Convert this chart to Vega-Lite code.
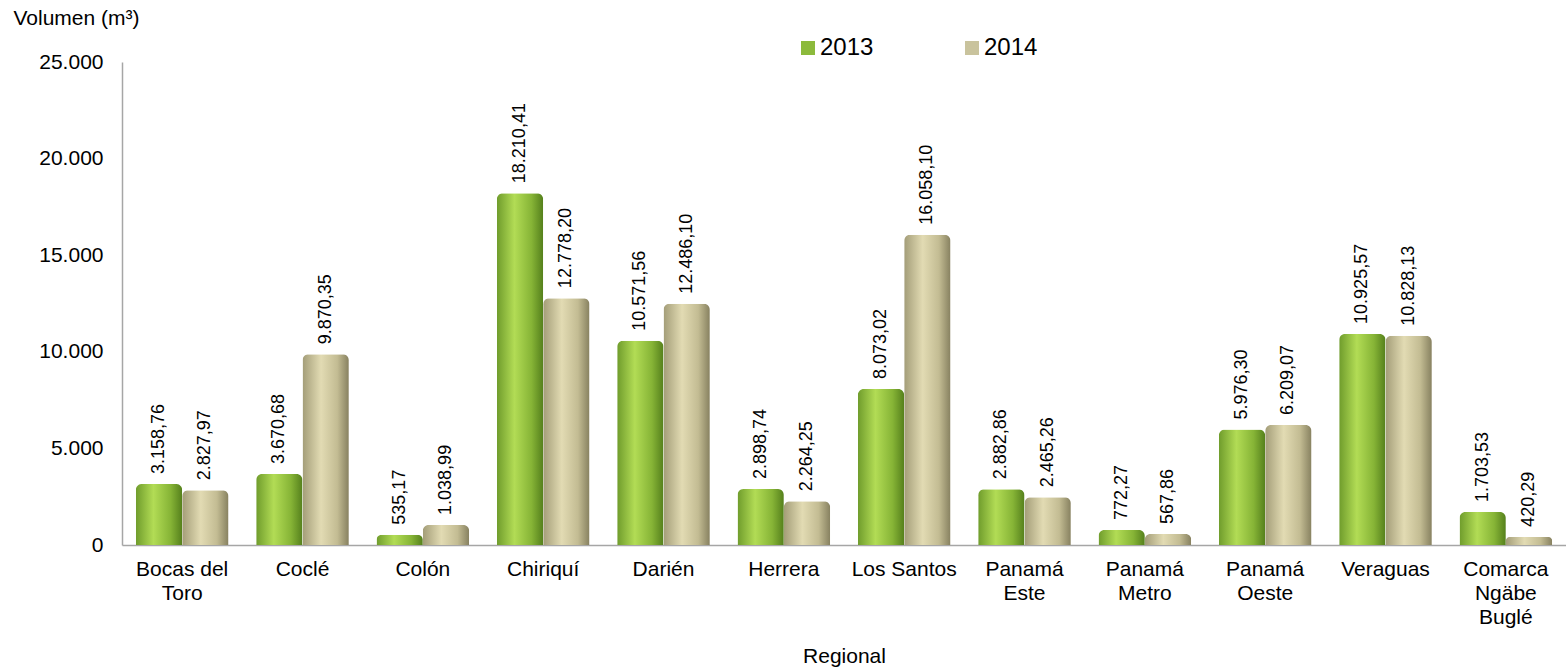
{
  "$schema": "https://vega.github.io/schema/vega-lite/v6.json",
  "width": 1444,
  "height": 483,
  "autosize": {"type": "none"},
  "padding": {"left": 122, "top": 62, "right": 0, "bottom": 124},
  "background": "white",
  "config": {
    "locale": {"number": {"decimal": ",", "thousands": ".", "grouping": [3], "currency": ["", ""]}},
    "font": "Liberation Sans",
    "view": {"stroke": null}
  },
  "data": {
    "values": [
      {"regional": "Bocas del Toro", "year": "2013", "value": 3158.76},
      {"regional": "Bocas del Toro", "year": "2014", "value": 2827.97},
      {"regional": "Coclé", "year": "2013", "value": 3670.68},
      {"regional": "Coclé", "year": "2014", "value": 9870.35},
      {"regional": "Colón", "year": "2013", "value": 535.17},
      {"regional": "Colón", "year": "2014", "value": 1038.99},
      {"regional": "Chiriquí", "year": "2013", "value": 18210.41},
      {"regional": "Chiriquí", "year": "2014", "value": 12778.20},
      {"regional": "Darién", "year": "2013", "value": 10571.56},
      {"regional": "Darién", "year": "2014", "value": 12486.10},
      {"regional": "Herrera", "year": "2013", "value": 2898.74},
      {"regional": "Herrera", "year": "2014", "value": 2264.25},
      {"regional": "Los Santos", "year": "2013", "value": 8073.02},
      {"regional": "Los Santos", "year": "2014", "value": 16058.10},
      {"regional": "Panamá Este", "year": "2013", "value": 2882.86},
      {"regional": "Panamá Este", "year": "2014", "value": 2465.26},
      {"regional": "Panamá Metro", "year": "2013", "value": 772.27},
      {"regional": "Panamá Metro", "year": "2014", "value": 567.86},
      {"regional": "Panamá Oeste", "year": "2013", "value": 5976.30},
      {"regional": "Panamá Oeste", "year": "2014", "value": 6209.07},
      {"regional": "Veraguas", "year": "2013", "value": 10925.57},
      {"regional": "Veraguas", "year": "2014", "value": 10828.13},
      {"regional": "Comarca Ngäbe Buglé", "year": "2013", "value": 1703.53},
      {"regional": "Comarca Ngäbe Buglé", "year": "2014", "value": 420.29}
    ]
  },
  "encoding": {
    "x": {
      "field": "regional",
      "type": "nominal",
      "sort": null,
      "scale": {"paddingInner": 0.23, "paddingOuter": 0.115},
      "axis": {
        "title": "Regional",
        "titleFontSize": 21,
        "titleFontWeight": "normal",
        "titleColor": "#000000",
        "titleY": 121,
        "titleBaseline": "bottom",
        "labelAngle": 0,
        "labelFontSize": 21,
        "labelColor": "#000000",
        "labelPadding": 13,
        "labelLineHeight": 24,
        "labelBaseline": "top",
        "labelLimit": 200,
        "labelExpr": "datum.value == 'Los Santos' ? datum.value : datum.value == 'Bocas del Toro' ? ['Bocas del', 'Toro'] : split(datum.value, ' ')",
        "ticks": false,
        "domainColor": "#a6a6a6",
        "domainWidth": 1.5,
        "grid": false
      }
    },
    "xOffset": {"field": "year", "type": "nominal", "scale": {"domain": ["2013", "2014"], "paddingInner": 0, "paddingOuter": 0}},
    "y": {
      "field": "value",
      "type": "quantitative",
      "scale": {"domain": [0, 25000], "nice": false},
      "axis": {
        "title": "Volumen (m³)",
        "titleAngle": 0,
        "titleAlign": "left",
        "titleBaseline": "middle",
        "titleX": -109,
        "titleY": -44,
        "titleFontSize": 21,
        "titleFontWeight": "normal",
        "titleColor": "#000000",
        "values": [0, 5000, 10000, 15000, 20000, 25000],
        "format": ",.0f",
        "labelFontSize": 21,
        "labelColor": "#000000",
        "labelPadding": 19,
        "ticks": false,
        "grid": false,
        "domainColor": "#a6a6a6",
        "domainWidth": 1.5
      }
    }
  },
  "layer": [
    {
      "transform": [{"filter": "datum.year == '2013'"}],
      "mark": {
        "type": "bar", "cornerRadiusTopLeft": 6, "cornerRadiusTopRight": 6,
        "color": {"gradient": "linear", "x1": 0, "y1": 0, "x2": 1, "y2": 0, "stops": [
          {"offset": 0, "color": "#6f9c2c"},
          {"offset": 0.38, "color": "#b2dc55"},
          {"offset": 0.75, "color": "#86b436"},
          {"offset": 1, "color": "#55801c"}
        ]}
      }
    },
    {
      "transform": [{"filter": "datum.year == '2014'"}],
      "mark": {
        "type": "bar", "cornerRadiusTopLeft": 6, "cornerRadiusTopRight": 6,
        "color": {"gradient": "linear", "x1": 0, "y1": 0, "x2": 1, "y2": 0, "stops": [
          {"offset": 0, "color": "#a39d78"},
          {"offset": 0.4, "color": "#e2dbb3"},
          {"offset": 0.75, "color": "#c3bc93"},
          {"offset": 1, "color": "#878160"}
        ]}
      }
    },
    {
      "transform": [{"filter": "datum.value < 0"}],
      "mark": {"type": "square"},
      "encoding": {
        "color": {
          "field": "year",
          "type": "nominal",
          "scale": {"domain": ["2013", "2014"], "range": ["#8cba3c", "#c9c39d"]},
          "legend": {
            "title": null,
            "orient": "none",
            "direction": "horizontal",
            "legendX": 674,
            "legendY": -26,
            "padding": 0,
            "symbolType": "square",
            "symbolSize": 196,
            "symbolStrokeWidth": 0,
            "symbolOpacity": 1,
            "labelFontSize": 24,
            "labelColor": "#000000",
            "labelOffset": 0,
            "columnPadding": 86
          }
        }
      }
    },
    {
      "mark": {"type": "text", "angle": 270, "align": "left", "baseline": "middle", "dx": 10, "fontSize": 18, "color": "#000000"},
      "encoding": {
        "text": {"field": "value", "type": "quantitative", "format": ",.2f"}
      }
    }
  ]
}
